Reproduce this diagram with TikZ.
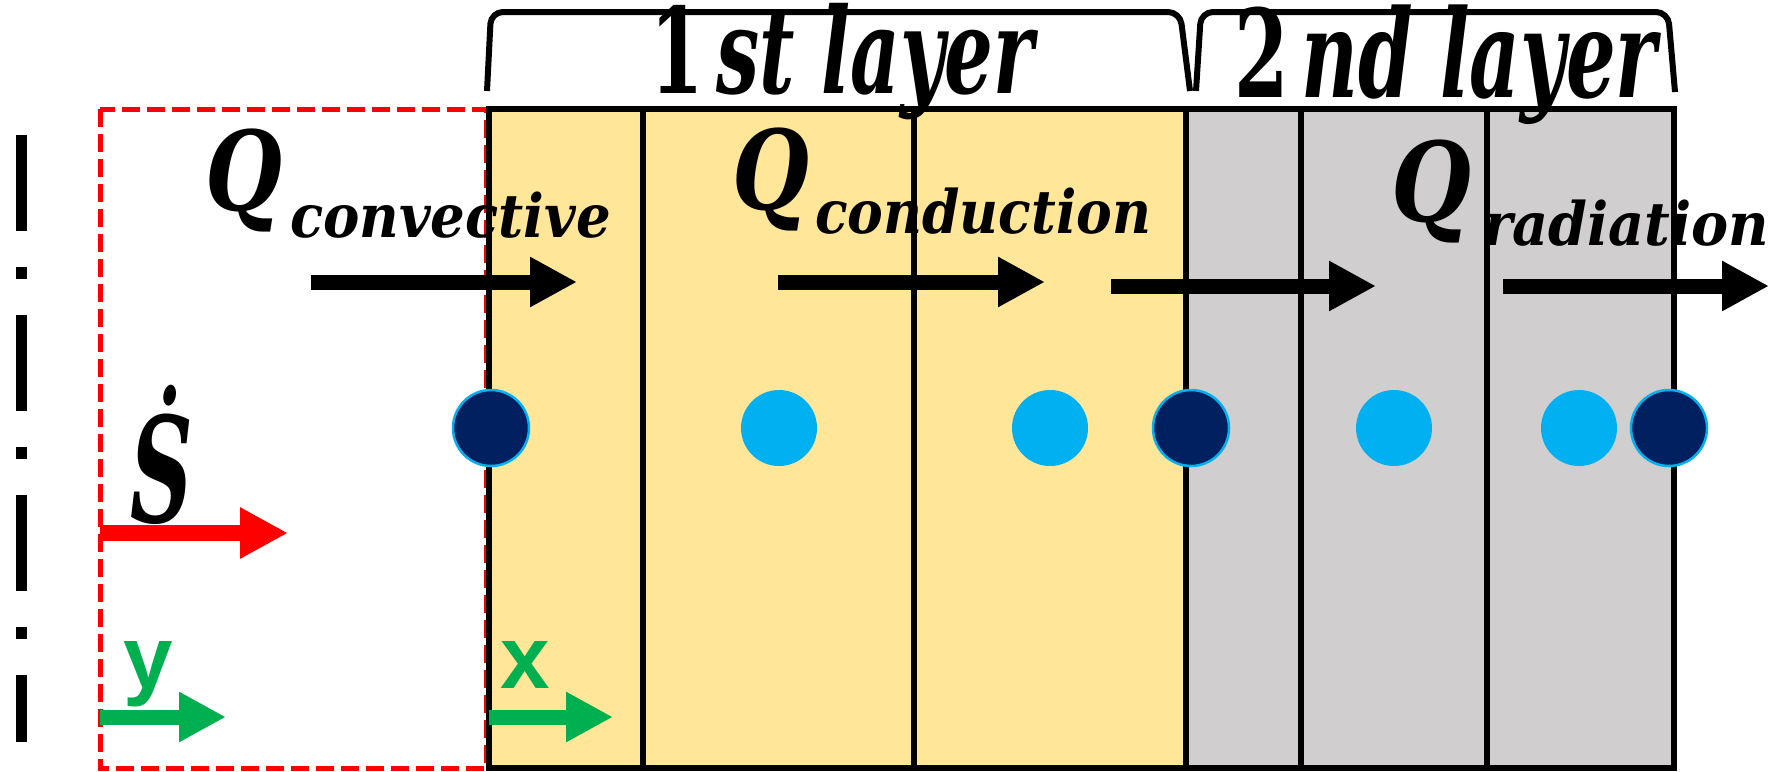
\documentclass[tikz,border=0pt]{standalone}
\usepackage{fontspec}
\usepackage{graphicx}
\setmainfont{DejaVu Serif}
\newfontfamily\gsans{Liberation Sans}
\usetikzlibrary{arrows.meta}
\definecolor{ylw}{HTML}{FFE699}
\definecolor{gry}{HTML}{D0CECE}
\definecolor{lblue}{HTML}{00B0F0}
\definecolor{navy}{HTML}{002060}
\definecolor{grn}{HTML}{00B050}
\newcommand{\fitw}[2]{\resizebox{#1}{\height}{#2}}
\newcommand{\bifont}[1]{\fontsize{#1}{#1}\selectfont\bfseries\itshape}
\tikzset{
  lbl/.style={anchor=base west, inner sep=0pt, outer sep=0pt},
  flow/.style={line width=15pt, -{Triangle[length=47pt,width=47pt]}},
  redflow/.style={red, line width=16pt, -{Triangle[length=48pt,width=48pt]}},
  grnflow/.style={grn, line width=15pt, -{Triangle[length=47pt,width=47pt]}},
  wall/.style={line width=6pt},
  bracket/.style={line width=6pt, rounded corners=12pt},
  dk/.style={circle, minimum size=76pt, inner sep=0pt, fill=navy, draw=lblue, line width=2.5pt},
  lt/.style={circle, minimum size=76pt, inner sep=0pt, fill=lblue},
}
\begin{document}
\begin{tikzpicture}[x=1pt,y=-1pt]
\useasboundingbox (0,0) rectangle (1776,771);
% layer fills
\fill[ylw] (489,109) rectangle (1186,768);
\fill[gry] (1186,109) rectangle (1674,768);
% red dashed control volume
\draw[red, line width=5pt, dash pattern=on 18pt off 7pt] (100,109) rectangle (486,768);
% walls
\draw[wall] (489,109) rectangle (1674,768);
\foreach \x in {643,914,1186,1301,1487} \draw[wall] (\x,109) -- (\x,768);
% symmetry axis
\draw[line width=11pt, dash pattern=on 96pt off 36pt on 12pt off 36pt] (21,135) -- (21,742);
% brackets
\draw[bracket] (487,91) -- (491,12) -- (1180,12) -- (1190,91);
\draw[bracket] (1196,91) -- (1201,12) -- (1668,12) -- (1675,92);
% titles
\node[lbl] (t1) at (650,93) {\resizebox{384pt}{1.11\height}{\bifont{107}{\upshape 1}\,st layer}};
\node[lbl] (t2) at (1234,97) {\resizebox{423pt}{1.14\height}{\bifont{107}{\upshape 2}\,nd layer}};
% heat flow labels
\node[lbl] (q1) at (205,210) {\fitw{77pt}{\bifont{110}Q}};
\node[lbl] (s1) at (290,237) {\fitw{321pt}{\bifont{60}convective}};
\node[lbl] (q2) at (732,209) {\fitw{77pt}{\bifont{110}Q}};
\node[lbl] (s2) at (815,233) {\fitw{336pt}{\bifont{60}conduction}};
\node[lbl] (q3) at (1391,221) {\fitw{80pt}{\bifont{110}Q}};
\node[lbl] (s3) at (1483,245) {\fitw{286pt}{\bifont{60}radiation}};
% flow arrows
\coordinate (a1s) at (311,282); \coordinate (a1e) at (577,282);
\coordinate (a2s) at (778,282); \coordinate (a2e) at (1045,282);
\coordinate (a3s) at (1111,286); \coordinate (a3e) at (1376,286);
\coordinate (a4s) at (1503,286); \coordinate (a4e) at (1769,286);
\draw[flow] (a1s) -- (a1e);
\draw[flow] (a2s) -- (a2e);
\draw[flow] (a3s) -- (a3e);
\draw[flow] (a4s) -- (a4e);
% nodes
\node[dk] (c1) at (491,428) {};
\node[lt] (c2) at (779,428) {};
\node[lt] (c3) at (1050,428) {};
\node[dk] (c4) at (1191,428) {};
\node[lt] (c5) at (1394,428) {};
\node[lt] (c6) at (1579,428) {};
\node[dk] (c7) at (1669,428) {};
% source term
\node[lbl] (sd) at (130,522) {\scalebox{0.82}[1.38]{\bifont{106}\.{S}}};
\coordinate (rs) at (100,533); \coordinate (re) at (288,533);
\draw[redflow] (rs) -- (re);
% axes
\node[lbl, text=grn] (ly) at (123,688) {\fontsize{89}{89}\selectfont\gsans\bfseries y};
\node[lbl, text=grn] (lx) at (500,688) {\fontsize{89}{89}\selectfont\gsans\bfseries x};
\coordinate (ys) at (100,717); \coordinate (ye) at (226,717);
\coordinate (xs) at (489,717); \coordinate (xe) at (613,717);
\draw[grnflow] (ys) -- (ye);
\draw[grnflow] (xs) -- (xe);
\end{tikzpicture}
\end{document}
